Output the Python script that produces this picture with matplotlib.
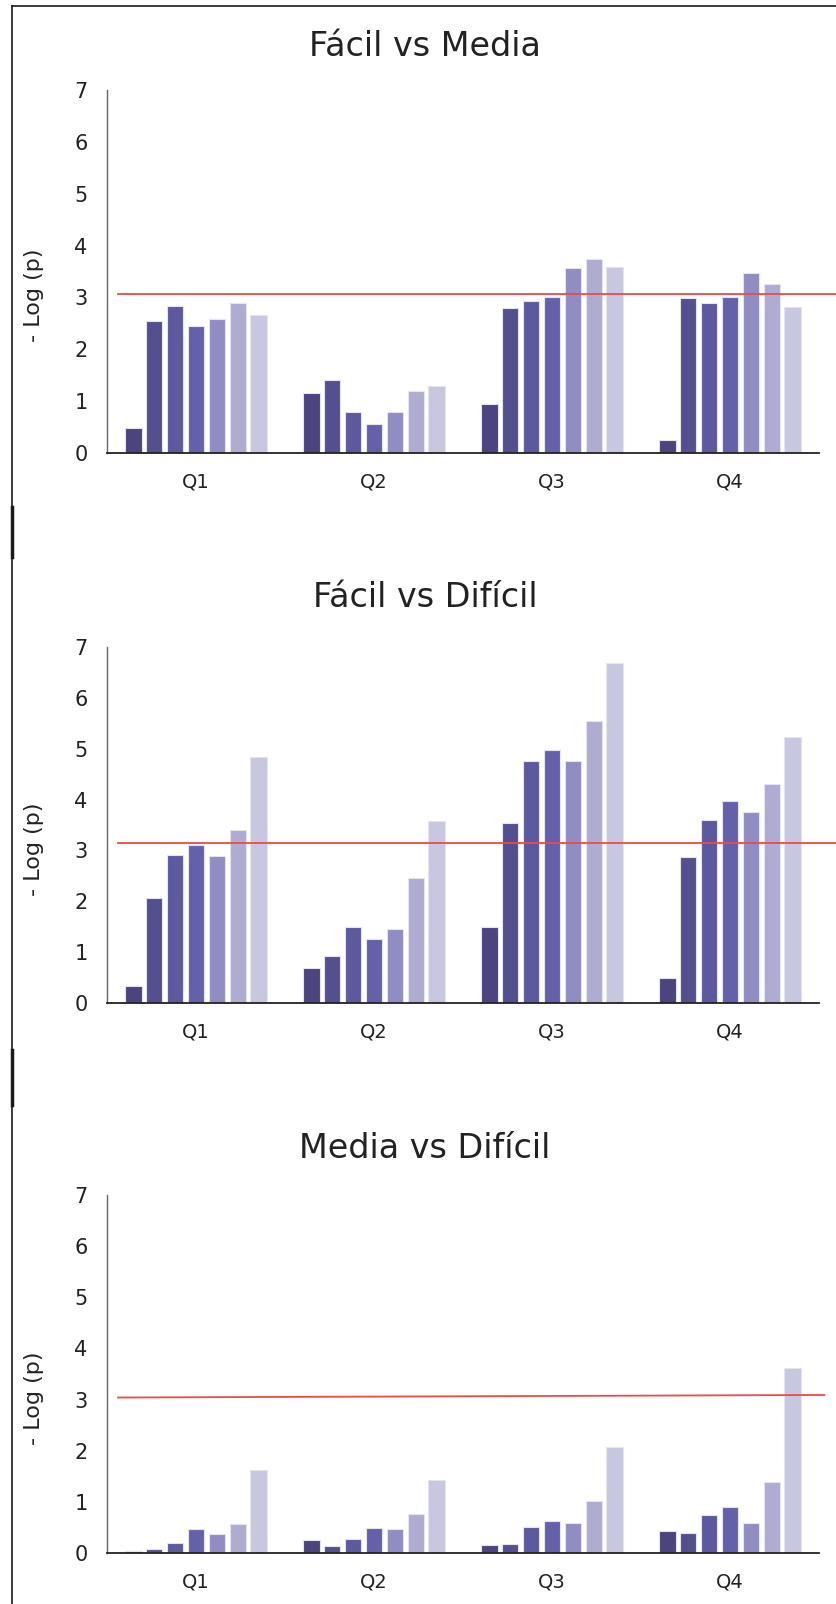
import matplotlib
matplotlib.use("Agg")
import matplotlib.pyplot as plt
from matplotlib.lines import Line2D
import numpy as np

quarters = ["Q1", "Q2", "Q3", "Q4"]
titles = ["Fácil vs Media", "Fácil vs Difícil", "Media vs Difícil"]
threshold = [(3.06, 3.06), (3.15, 3.15), (3.04, 3.09)]

# 7 series per quarter, -log(p)
facil_media = [
    [0.49, 2.54, 2.84, 2.45, 2.59, 2.90, 2.66],
    [1.16, 1.40, 0.79, 0.55, 0.79, 1.19, 1.29],
    [0.95, 2.79, 2.94, 3.01, 3.57, 3.75, 3.59],
    [0.25, 2.99, 2.90, 3.01, 3.48, 3.25, 2.81],
]
facil_dificil = [
    [0.33, 2.06, 2.91, 3.10, 2.89, 3.41, 4.83],
    [0.68, 0.93, 1.49, 1.25, 1.45, 2.45, 3.57],
    [1.49, 3.54, 4.76, 4.98, 4.76, 5.55, 6.69],
    [0.50, 2.87, 3.59, 3.98, 3.76, 4.30, 5.24],
]
media_dificil = [
    [0.03, 0.08, 0.20, 0.47, 0.37, 0.57, 1.63],
    [0.25, 0.13, 0.27, 0.48, 0.47, 0.76, 1.42],
    [0.16, 0.18, 0.50, 0.62, 0.59, 1.01, 2.07],
    [0.43, 0.40, 0.74, 0.89, 0.59, 1.38, 3.62],
]
panels = [facil_media, facil_dificil, media_dificil]

colors = ["#4b447e", "#544f8f", "#5c599e", "#6461aa", "#8f8dc1", "#aeadd1", "#c8c7e0"]

W, H = 837, 1604
fig = plt.figure(figsize=(W / 100, H / 100), dpi=100)

# axes boxes in pixels: (left, right, top, bottom)
boxes = [(107, 819, 90, 453), (107, 819, 647, 1003), (107, 819, 1195, 1553)]
title_y = [46, 597, 1148]
line_end = [3.60, 3.60, 3.53]

pitch = 0.1175
width = 0.093
x = np.arange(len(quarters))

for k, ax_data in enumerate(panels):
    l, r, t, b = boxes[k]
    ax = fig.add_axes([l / W, (H - b) / H, (r - l) / W, (b - t) / H])
    vals = np.array(ax_data)
    for i in range(7):
        ax.bar(x + (i - 3) * pitch, vals[:, i], width=width, color=colors[i],
               edgecolor="#e4e3f0", linewidth=0.8, zorder=2)
    ax.plot([-0.438, line_end[k]], threshold[k], color="#f04848", lw=1.3,
            clip_on=False, zorder=3)
    ax.set_xlim(-0.5, 3.5)
    ax.set_ylim(0, 7)
    ax.set_yticks(range(8))
    ax.set_xticks(x)
    ax.set_xticklabels(quarters)
    ax.tick_params(length=0, labelsize=14, colors="#222222")
    ax.tick_params(axis="y", pad=14, labelsize=15)
    ax.tick_params(axis="x", pad=14)
    for s in ["top", "right"]:
        ax.spines[s].set_visible(False)
    ax.spines["left"].set_color("#666666")
    ax.spines["left"].set_linewidth(1.0)
    ax.spines["bottom"].set_color("#222222")
    ax.spines["bottom"].set_linewidth(1.3)
    ymid = (t + b) / 2 + 24
    fig.text(34 / W, (H - ymid) / H, "- Log (p)", rotation=90, ha="center",
             va="center", fontsize=16, color="#222222")
    fig.text(425 / W, (H - title_y[k]) / H, titles[k], ha="center", va="center",
             fontsize=24, color="#222222")

# frame lines of the original screenshot
def px_line(xs, ys, lw):
    fig.add_artist(Line2D([v / W for v in xs], [(H - v) / H for v in ys],
                          color="#1a1a1a", lw=lw, transform=fig.transFigure))

px_line([12, 12], [6, H], 1.2)
px_line([12, W], [6, 6], 1.2)
px_line([12, 12], [507, 557], 2.5)
px_line([12, 12], [1050, 1105], 2.5)

fig.savefig("out.png", dpi=100, facecolor="white")
